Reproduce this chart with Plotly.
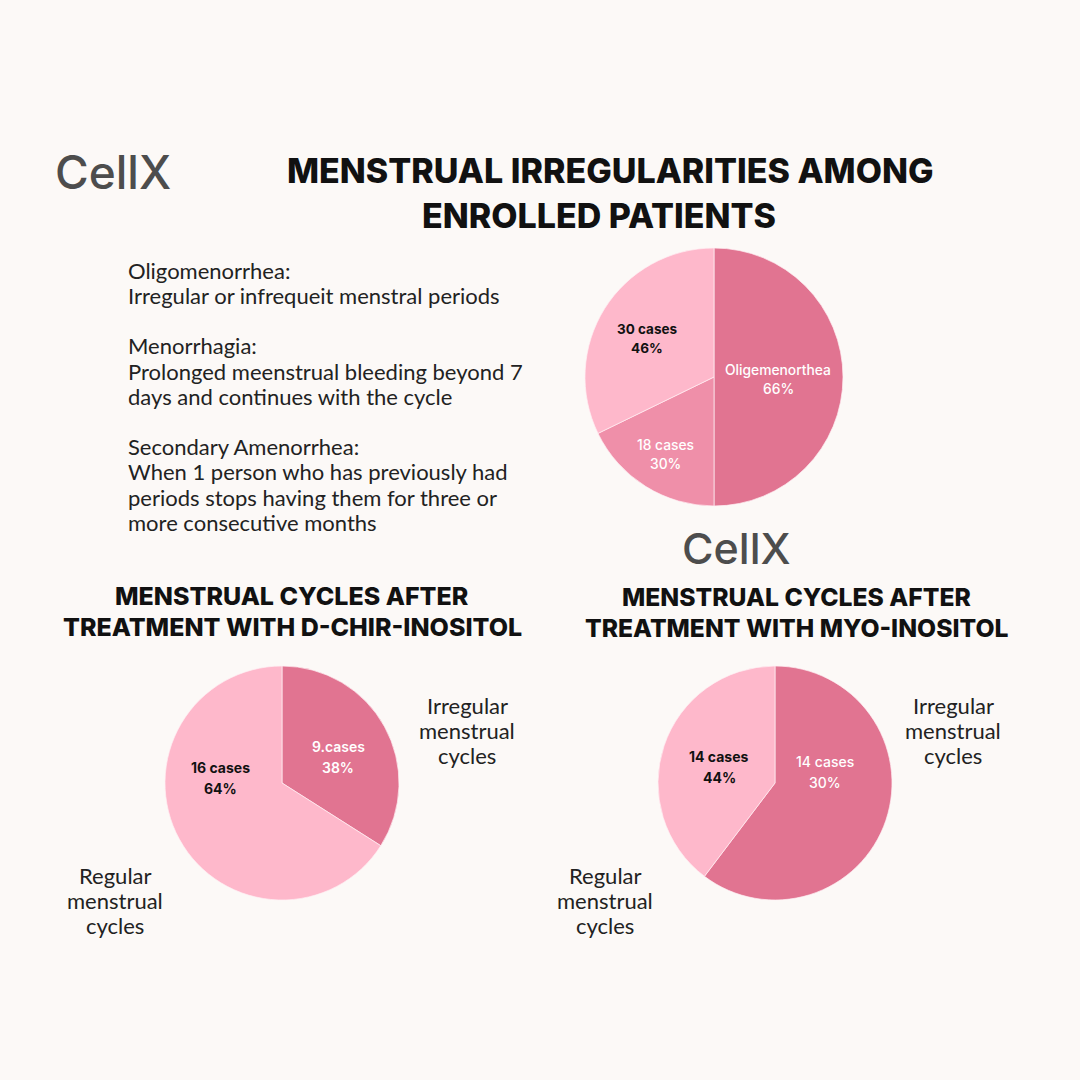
import plotly.graph_objects as go

W = H = 1080
BG = "#fcf9f7"
DARK = "#e17491"
MID = "#ef8fa9"
LIGHT = "#feb8cb"

top_labels = ["Oligemenorthea", "18 cases", "30 cases"]
top_values = [50.0, 17.8, 32.2]
top_text = [["Oligemenorthea", "66%"], ["18 cases", "30%"], ["30 cases", "46%"]]

# Bottom-left pie: D-chiro-inositol
dci_labels = ["Irregular menstrual cycles", "Regular menstrual cycles"]
dci_values = [34.0, 66.0]
dci_text = [["9.cases", "38%"], ["16 cases", "64%"]]

# Bottom-right pie: Myo-inositol
myo_labels = ["Irregular menstrual cycles", "Regular menstrual cycles"]
myo_values = [60.3, 39.7]
myo_text = [["14 cases", "30%"], ["14 cases", "44%"]]

irregular_lines = ["Irregular", "menstrual", "cycles"]
regular_lines = ["Regular", "menstrual", "cycles"]

def px_dom(x0, x1, y0, y1):
    return dict(x=[x0 / W, x1 / W], y=[1 - y1 / H, 1 - y0 / H])

fig = go.Figure()

def add_pie(labels, values, colors, dom):
    fig.add_trace(go.Pie(
        labels=labels, values=values, sort=False, direction="clockwise",
        rotation=0, textinfo="none", hoverinfo="label+percent",
        marker=dict(colors=colors, line=dict(color="rgba(255,240,244,0.7)", width=1)),
        domain=dom, showlegend=False,
    ))

add_pie(top_labels, top_values, [DARK, MID, LIGHT], px_dom(585, 843, 248, 506))
add_pie(dci_labels, dci_values, [DARK, LIGHT], px_dom(165, 399, 666, 900))
add_pie(myo_labels, myo_values, [DARK, LIGHT], px_dom(658, 892, 666, 900))

ann = []

def txt(x, y, s, size, color="#222222", family="Lato", weight=400, align="center", xanchor="center"):
    ann.append(dict(x=x / W, y=1 - y / H, xref="paper", yref="paper", text=s,
                    showarrow=False, align=align, xanchor=xanchor, yanchor="middle",
                    font=dict(size=size, color=color, family=family, weight=weight)))

def lines(x, y0, step, items, size, **kw):
    for i, s in enumerate(items):
        txt(x, y0 + i * step, s, size, **kw)

# Logos
txt(113, 172, "CellX", 46, color="#4d4d4d", family="Inter", weight=500)
txt(736, 548, "CellX", 43, color="#4d4d4d", family="Inter", weight=500)

# Main title
txt(610, 170, "MENSTRUAL IRREGULARITIES AMONG", 34, color="#111111", family="Inter", weight=800)
txt(599, 215, "ENROLLED PATIENTS", 34, color="#111111", family="Inter", weight=800)

# Sub titles
lines(292, 596, 31, ["MENSTRUAL CYCLES AFTER", "TREATMENT WITH D-CHIR-INOSITOL"], 25,
      color="#111111", family="Inter", weight=800)
lines(796, 597, 31, ["MENSTRUAL CYCLES AFTER", "TREATMENT WITH MYO-INOSITOL"], 24.7,
      color="#111111", family="Inter", weight=800)

# Definitions block
defs = [
    (270, "Oligomenorrhea:"),
    (295, "Irregular or infrequeit menstral periods"),
    (345, "Menorrhagia:"),
    (371, "Prolonged meenstrual bleeding beyond 7"),
    (396, "days and continues with the cycle"),
    (446, "Secondary Amenorrhea:"),
    (471, "When 1 person who has previously had"),
    (497, "periods stops having them for three or"),
    (522, "more consecutive months"),
]
for y, s in defs:
    txt(126, y, s, 22, color="#222222", family="Lato", xanchor="left", align="left")

# Slice labels (top pie)
lines(778, 370, 19, top_text[0], 13.8, color="#ffffff", family="Inter", weight=500)
lines(665, 445, 19, top_text[1], 13.8, color="#ffffff", family="Inter", weight=500)
lines(647, 329, 19, top_text[2], 13.5, color="#111111", family="Inter", weight=700)

# Slice labels (bottom left)
lines(338, 746, 21, dci_text[0], 14, color="#ffffff", family="Inter", weight=600)
lines(220, 767, 21, dci_text[1], 14, color="#111111", family="Inter", weight=700)

# Slice labels (bottom right)
lines(825, 761, 21, myo_text[0], 14, color="#ffffff", family="Inter", weight=500)
lines(719, 756, 21, myo_text[1], 14, color="#111111", family="Inter", weight=700)

# Outside category labels
lines(467, 705, 25, irregular_lines, 22, color="#222222", family="Lato")
lines(115, 875, 25, regular_lines, 22, color="#222222", family="Lato")
lines(953, 705, 25, irregular_lines, 22, color="#222222", family="Lato")
lines(605, 875, 25, regular_lines, 22, color="#222222", family="Lato")

fig.update_layout(
    width=W, height=H, margin=dict(l=0, r=0, t=0, b=0),
    paper_bgcolor=BG, plot_bgcolor=BG, annotations=ann,
)

fig.write_html(
    "out.html",
    config={"displayModeBar": False},
    post_script="document.body.style.margin='0';document.body.style.background='%s';" % BG,
)
